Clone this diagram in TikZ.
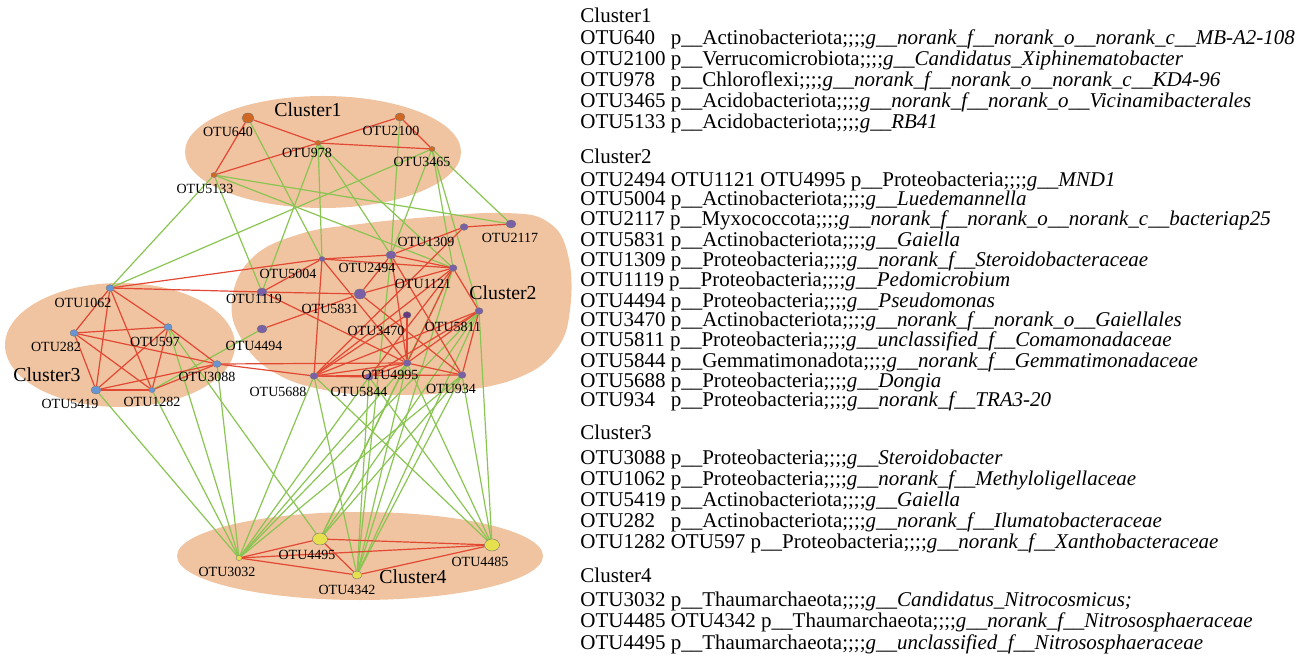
\documentclass[tikz,border=0pt]{standalone}
\usepackage{fontspec}
\setmainfont{Liberation Serif}
\usetikzlibrary{shapes.geometric}
\pgfdeclarelayer{blobs}
\pgfdeclarelayer{links}
\pgfsetlayers{blobs,links,main}
\definecolor{blobfill}{RGB}{235,176,128}
\definecolor{linkred}{RGB}{226,72,52}
\definecolor{linkgreen}{RGB}{138,196,82}
\definecolor{otuorange}{RGB}{208,104,36}
\definecolor{otupurple}{RGB}{122,96,166}
\definecolor{otudark}{RGB}{106,58,128}
\definecolor{otublue}{RGB}{104,150,212}
\definecolor{otuyellow}{RGB}{230,224,78}
\newcommand{\otupad}[1]{\makebox[4.06em][l]{#1}}
\tikzset{
  otu/.style={ellipse, draw=black!55, line width=0.2pt, inner sep=0pt},
  sz1/.style={minimum width=3pt, minimum height=2.5pt},
  sz2/.style={minimum width=4pt, minimum height=3.3pt},
  sz3/.style={minimum width=5pt, minimum height=4pt},
  sz4/.style={minimum width=6pt, minimum height=5pt},
  sz5/.style={minimum width=7.5pt, minimum height=6pt},
  otulbl/.style={font=\fontsize{7}{7.5}\selectfont, inner sep=0pt},
  clulbl/.style={font=\fontsize{9.9}{11}\selectfont, inner sep=0pt},
  redlink/.style={draw=linkred, line width=0.6pt},
  greenlink/.style={draw=linkgreen, line width=0.6pt},
  blob/.style={fill=blobfill, fill opacity=0.75, draw=none},
  taxline/.style={anchor=base west, inner sep=0pt, font=\fontsize{10.5}{10.5}\selectfont},
}
\begin{document}
\begin{tikzpicture}[x=0.5pt,y=-0.5pt]
\useasboundingbox (0,0) rectangle (1305,657);

% cluster 1
\node[otu,sz4,fill=otuorange] (o640) at (248,118) {};
\node[otu,sz3,fill=otuorange] (o2100) at (400,117) {};
\node[otu,sz1,fill=otuorange] (o978) at (318,143) {};
\node[otu,sz1,fill=otuorange] (o3465) at (432,149) {};
\node[otu,sz1,fill=otuorange] (o5133) at (214,175) {};

% cluster 2
\node[otu,sz3,fill=otupurple] (o2117) at (511,224) {};
\node[otu,sz2,fill=otupurple] (o1309) at (464,227) {};
\node[otu,sz3,fill=otupurple] (o2494) at (391,255) {};
\node[otu,sz1,fill=otupurple] (o5004) at (322,259) {};
\node[otu,sz2,fill=otupurple] (o1121) at (453,268) {};
\node[otu,sz3,fill=otupurple] (o1119) at (262,292) {};
\node[otu,sz4,fill=otupurple] (o5831) at (360,294) {};
\node[otu,sz2,fill=otupurple] (o5811) at (479,311) {};
\node[otu,sz2,fill=otudark] (o3470) at (407,315) {};
\node[otu,sz3,fill=otupurple] (o4494) at (262,329) {};
\node[otu,sz2,fill=otupurple] (o4995) at (407,363) {};
\node[otu,sz2,fill=otupurple] (o5688) at (314,376) {};
\node[otu,sz2,fill=otupurple] (o5844) at (369,377) {};
\node[otu,sz2,fill=otupurple] (o934) at (462,375) {};

% cluster 3
\node[otu,sz2,fill=otublue] (o1062) at (110,288) {};
\node[otu,sz2,fill=otublue] (o282) at (74,333) {};
\node[otu,sz2,fill=otublue] (o597) at (168,327) {};
\node[otu,sz2,fill=otublue] (o3088) at (217,364) {};
\node[otu,sz3,fill=otublue] (o5419) at (96,390) {};
\node[otu,sz1,fill=otublue] (o1282) at (152,390) {};

% cluster 4
\node[otu,sz1,fill=otuyellow] (o3032) at (239,558) {};
\node[otu,sz5,fill=otuyellow] (o4495) at (320,539) {};
\node[otu,sz3,fill=otuyellow] (o4342) at (357,575) {};
\node[otu,sz5,fill=otuyellow] (o4485) at (492,545) {};

% otu labels
\node[otulbl] (l640) at (228,132) {OTU640};
\node[otulbl] (l2100) at (391,131) {OTU2100};
\node[otulbl] (l978) at (307,153) {OTU978};
\node[otulbl] (l3465) at (422,162) {OTU3465};
\node[otulbl] (l5133) at (205,189) {OTU5133};
\node[otulbl] (l2117) at (510,238) {OTU2117};
\node[otulbl] (l1309) at (426,242) {OTU1309};
\node[otulbl] (l2494) at (367,268) {OTU2494};
\node[otulbl] (l5004) at (288,274) {OTU5004};
\node[otulbl] (l1121) at (423,284) {OTU1121};
\node[otulbl] (l1119) at (254,299) {OTU1119};
\node[otulbl] (l5831) at (330,309) {OTU5831};
\node[otulbl] (l5811) at (453,327) {OTU5811};
\node[otulbl] (l3470) at (376,331) {OTU3470};
\node[otulbl] (l4494) at (254,346) {OTU4494};
\node[otulbl] (l4995) at (390,375) {OTU4995};
\node[otulbl] (l5688) at (278,392) {OTU5688};
\node[otulbl] (l5844) at (359,392) {OTU5844};
\node[otulbl] (l934) at (451,389) {OTU934};
\node[otulbl] (l1062) at (83,303) {OTU1062};
\node[otulbl] (l282) at (56,347) {OTU282};
\node[otulbl] (l597) at (155,342) {OTU597};
\node[otulbl] (l3088) at (207,377) {OTU3088};
\node[otulbl] (l5419) at (70,404) {OTU5419};
\node[otulbl] (l1282) at (152,402) {OTU1282};
\node[otulbl] (l3032) at (227,572) {OTU3032};
\node[otulbl] (l4495) at (307,555) {OTU4495};
\node[otulbl] (l4342) at (347,590) {OTU4342};
\node[otulbl] (l4485) at (480,562) {OTU4485};

\node[clulbl] (k1) at (308,110) {Cluster1};
\node[clulbl] (k2) at (503,293) {Cluster2};
\node[clulbl] (k3) at (47,375) {Cluster3};
\node[clulbl] (k4) at (413,577) {Cluster4};

\begin{pgfonlayer}{blobs}
\path[blob] (323,152) ellipse [x radius=138, y radius=56];
\path[blob] plot[smooth cycle, tension=0.7] coordinates {(232,300) (252,258) (300,234)
  (360,224) (430,217) (505,213) (548,222) (568,255) (570,310) (556,350) (520,377)
  (460,391) (395,395) (330,391) (275,373) (242,340)};
\path[blob] (120,345) ellipse [x radius=115, y radius=62];
\path[blob] (360,556) ellipse [x radius=183, y radius=44];
\end{pgfonlayer}

\begin{pgfonlayer}{links}
\foreach \a/\b in {640/5004, 5133/1119, 5133/2117, 5133/1121, 978/5004, 978/1119,
  978/2494, 978/1121, 2100/2494, 3465/2117, 3465/5811, 3465/2494, 3465/1121,
  5133/1062, 3465/1062, 1282/4494, 5419/3032, 1282/3032, 597/3032, 597/4495,
  3088/3032, 5688/3032, 5688/4342, 5688/4485, 5844/3032, 5844/4342, 5844/4485,
  4995/3032, 4995/4342, 4995/4495, 4995/4485, 934/3032, 934/4495, 934/4342,
  934/4485, 5811/3032, 5811/4342, 5811/4485, 5811/4495, 2494/4342, 1121/4342,
  1121/4495}
  \draw[greenlink] (o\a) -- (o\b);
\foreach \a/\b in {640/978, 640/5133, 5133/978, 978/2100, 978/3465, 2100/3465,
  1062/282, 1062/5419, 1062/1282, 1062/597, 282/597, 282/5419, 282/1282, 282/3088,
  597/5419, 597/1282, 597/3088, 5419/1282, 5419/3088, 1282/3088,
  1062/5004, 1062/1119, 3088/4995, 3088/5688,
  1309/2117, 1309/2494, 1309/5688, 2494/5004, 2494/1121, 2494/5831, 2494/4995,
  2494/934, 5004/1119, 5004/1121, 5004/5688, 5004/4995, 1119/5831, 1119/4995,
  5831/4494, 5831/1121, 5831/934, 1121/5688, 1121/4995, 1121/5844, 1121/5811,
  5811/5688, 5811/4995, 5811/5844, 5811/934, 3470/4995, 3470/5688, 4995/5688,
  4995/934, 4995/5844, 5688/934, 5688/5844,
  3032/4495, 3032/4342, 3032/4485, 4495/4485, 4495/4342, 4342/4485}
  \draw[redlink] (o\a) -- (o\b);
\end{pgfonlayer}

% taxonomy list
\node[taxline] (t1) at (580,23) {Cluster1};
\node[taxline] (t1a) at (580,45) {\otupad{OTU640} p\_\_Actinobacteriota;;;;\textit{g\_\_norank\_f\_\_norank\_o\_\_norank\_c\_\_MB-A2-108}};
\node[taxline] (t1b) at (580,66) {OTU2100 p\_\_Verrucomicrobiota;;;;\textit{g\_\_Candidatus\_Xiphinematobacter}};
\node[taxline] (t1c) at (580,87) {\otupad{OTU978} p\_\_Chloroflexi;;;;\textit{g\_\_norank\_f\_\_norank\_o\_\_norank\_c\_\_KD4-96}};
\node[taxline] (t1d) at (580,108) {OTU3465 p\_\_Acidobacteriota;;;;\textit{g\_\_norank\_f\_\_norank\_o\_\_Vicinamibacterales}};
\node[taxline] (t1e) at (580,129) {OTU5133 p\_\_Acidobacteriota;;;;\textit{g\_\_RB41}};
\node[taxline] (t2) at (580,164) {Cluster2};
\node[taxline] (t2a) at (580,187) {OTU2494 OTU1121 OTU4995 p\_\_Proteobacteria;;;;\textit{g\_\_MND1}};
\node[taxline] (t2b) at (580,206) {OTU5004 p\_\_Actinobacteriota;;;;\textit{g\_\_Luedemannella}};
\node[taxline] (t2c) at (580,226) {OTU2117 p\_\_Myxococcota;;;;\textit{g\_\_norank\_f\_\_norank\_o\_\_norank\_c\_\_bacteriap25}};
\node[taxline] (t2d) at (580,247) {OTU5831 p\_\_Actinobacteriota;;;;\textit{g\_\_Gaiella}};
\node[taxline] (t2e) at (580,267) {OTU1309 p\_\_Proteobacteria;;;;\textit{g\_\_norank\_f\_\_Steroidobacteraceae}};
\node[taxline] (t2f) at (580,287) {OTU1119 p\_\_Proteobacteria;;;;\textit{g\_\_Pedomicrobium}};
\node[taxline] (t2g) at (580,307) {OTU4494 p\_\_Proteobacteria;;;;\textit{g\_\_Pseudomonas}};
\node[taxline] (t2h) at (580,327) {OTU3470 p\_\_Actinobacteriota;;;;\textit{g\_\_norank\_f\_\_norank\_o\_\_Gaiellales}};
\node[taxline] (t2i) at (580,347) {OTU5811 p\_\_Proteobacteria;;;;\textit{g\_\_unclassified\_f\_\_Comamonadaceae}};
\node[taxline] (t2j) at (580,367) {OTU5844 p\_\_Gemmatimonadota;;;;\textit{g\_\_norank\_f\_\_Gemmatimonadaceae}};
\node[taxline] (t2k) at (580,387) {OTU5688 p\_\_Proteobacteria;;;;\textit{g\_\_Dongia}};
\node[taxline] (t2l) at (580,406) {\otupad{OTU934} p\_\_Proteobacteria;;;;\textit{g\_\_norank\_f\_\_TRA3-20}};
\node[taxline] (t3) at (580,439) {Cluster3};
\node[taxline] (t3a) at (580,464) {OTU3088 p\_\_Proteobacteria;;;;\textit{g\_\_Steroidobacter}};
\node[taxline] (t3b) at (580,485) {OTU1062 p\_\_Proteobacteria;;;;\textit{g\_\_norank\_f\_\_Methyloligellaceae}};
\node[taxline] (t3c) at (580,506) {OTU5419 p\_\_Actinobacteriota;;;;\textit{g\_\_Gaiella}};
\node[taxline] (t3d) at (580,527) {\otupad{OTU282} p\_\_Actinobacteriota;;;;\textit{g\_\_norank\_f\_\_Ilumatobacteraceae}};
\node[taxline] (t3e) at (580,548) {OTU1282 OTU597 p\_\_Proteobacteria;;;;\textit{g\_\_norank\_f\_\_Xanthobacteraceae}};
\node[taxline] (t4) at (580,582) {Cluster4};
\node[taxline] (t4a) at (580,606) {OTU3032 p\_\_Thaumarchaeota;;;;\textit{g\_\_Candidatus\_Nitrocosmicus;}};
\node[taxline] (t4b) at (580,627) {OTU4485 OTU4342 p\_\_Thaumarchaeota;;;;\textit{g\_\_norank\_f\_\_Nitrososphaeraceae}};
\node[taxline] (t4c) at (580,649) {OTU4495 p\_\_Thaumarchaeota;;;;\textit{g\_\_unclassified\_f\_\_Nitrososphaeraceae}};
\end{tikzpicture}
\end{document}
